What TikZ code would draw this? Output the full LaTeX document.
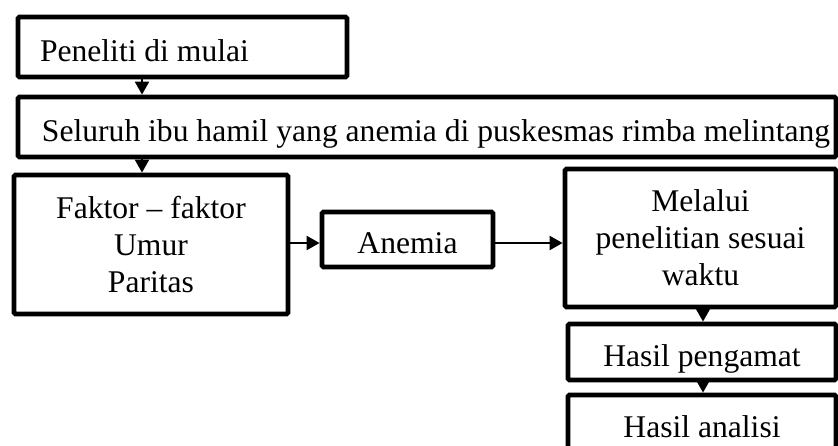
\documentclass[tikz,border=0pt]{standalone}
\usepackage{fontspec}
\setmainfont{Liberation Serif}
\usetikzlibrary{arrows.meta}
\newcommand{\leftin}[3]{\makebox[#1][l]{\hspace{#2}#3}}
\begin{document}
\begin{tikzpicture}[x=1pt,y=-1pt,
  box/.style={draw, line width=4.8pt, rectangle, rounded corners=1.5pt, inner sep=0pt,
    font=\fontsize{31.6}{37}\selectfont},
  one/.style={text height=28pt, text depth=0pt},
  multi/.style={align=center},
  arr/.style={line width=2.2pt, -{Triangle[length=13pt,width=14pt]}}]
\useasboundingbox (0,0) rectangle (838,445);
\clip (0,0) rectangle (838,445);

\node[box, one, minimum width=329pt, minimum height=60pt] (b1) at (182.5,47)
  {\leftin{329pt}{22pt}{Peneliti di mulai}};
\node[box, one, minimum width=818pt, minimum height=60pt] (b2) at (427,127)
  {\leftin{818pt}{24pt}{Seluruh ibu hamil yang anemia di puskesmas rimba melintang}};
\node[box, multi, minimum width=274pt, minimum height=139pt] (b3) at (151,244.5)
  {Faktor – faktor\\Umur\\Paritas};
\node[box, one, minimum width=171pt, minimum height=55pt] (an) at (407.5,239.5) {Anemia};
\node[box, multi, minimum width=271pt, minimum height=138pt] (m) at (700.5,238)
  {Melalui\\penelitian sesuai\\waktu};
\node[box, one, minimum width=268pt, minimum height=56pt] (hp) at (702,352) {Hasil pengamat};
\node[box, one, minimum width=268pt, minimum height=56pt] (ha) at (702,423) {Hasil analisi};

\coordinate (cx1) at (142,0);
\coordinate (cy) at (0,243);
\coordinate (cx2) at (703,0);

\draw[arr] (b1.south -| cx1) -- (b2.north -| cx1);
\draw[arr] (b2.south -| cx1) -- (b3.north -| cx1);
\draw[arr] (b3.east |- cy) -- (an.west |- cy);
\draw[arr] (an.east |- cy) -- (m.west |- cy);
\draw[arr] (m.south -| cx2) -- (hp.north -| cx2);
\draw[arr] (hp.south -| cx2) -- (ha.north -| cx2);
\end{tikzpicture}
\end{document}
